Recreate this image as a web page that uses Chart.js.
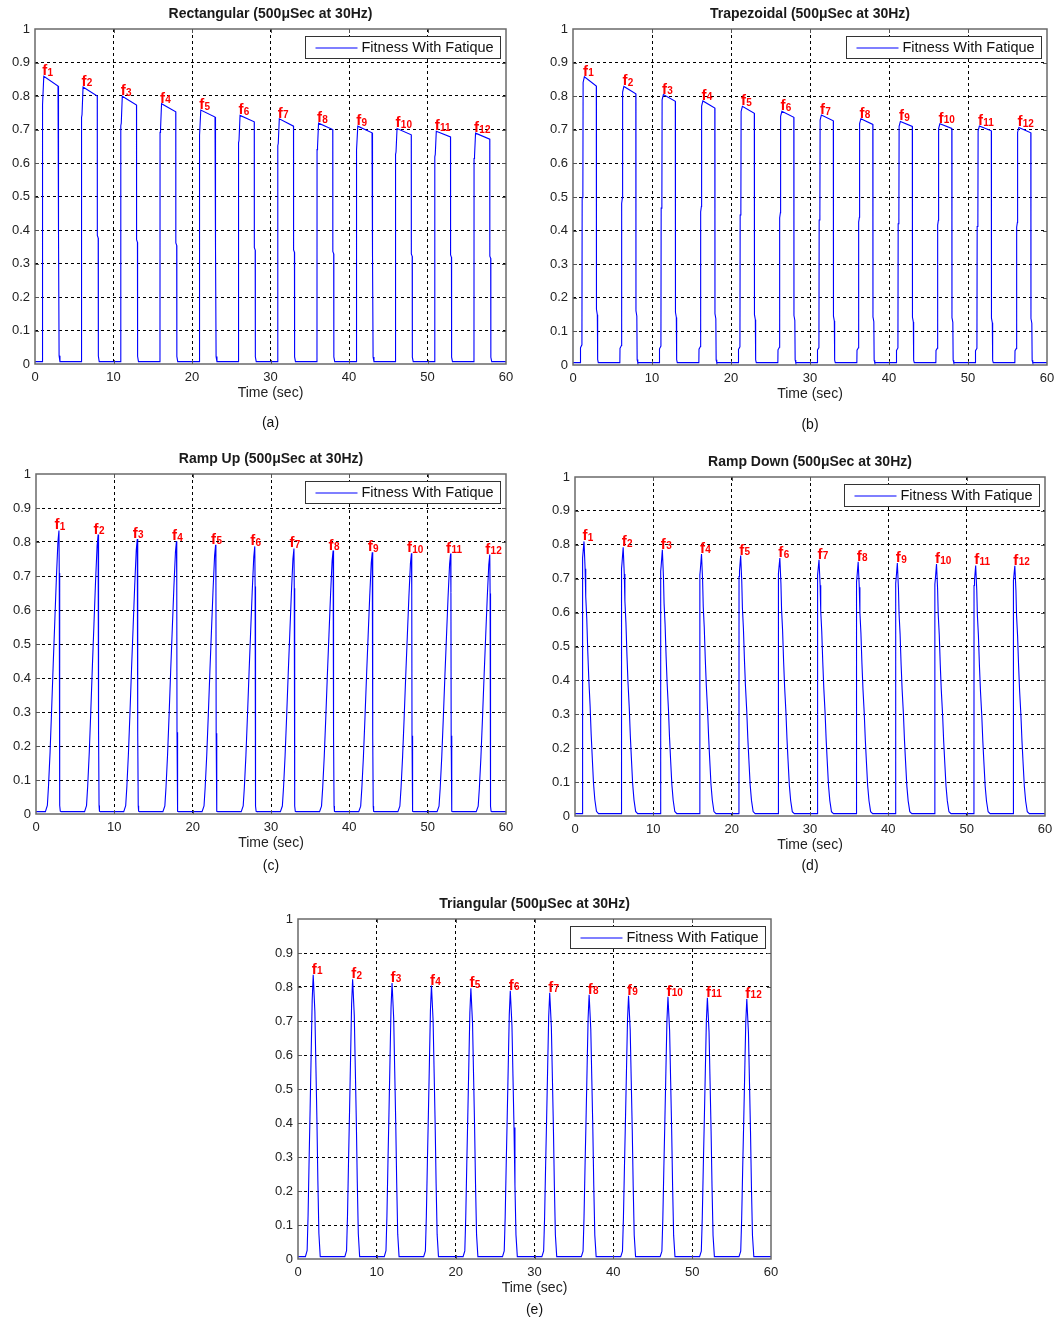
<!DOCTYPE html>
<html>
<head>
<meta charset="utf-8">
<script src="https://cdn.jsdelivr.net/npm/chart.js@4/dist/chart.umd.min.js"></script>
<style>
  html, body { margin: 0; padding: 0; background: #fff; }
  body { width: 1057px; height: 1318px; position: relative; overflow: hidden; }
  canvas.panel { position: absolute; }
</style>
</head>
<body>
<script>
// ---- shared axis values ----
const xTicks = [0, 10, 20, 30, 40, 50, 60];
const yTicks = [0, 0.1, 0.2, 0.3, 0.4, 0.5, 0.6, 0.7, 0.8, 0.9, 1];
const onsets = [0, 5, 10, 15, 20, 25, 30, 35, 40, 45, 50, 55];   // start of each 5 s stimulation cycle
const pulseNames = ['1', '2', '3', '4', '5', '6', '7', '8', '9', '10', '11', '12'];
const seriesLabel = 'Fitness With Fatique';
const restLevel = 0.007;

// ---- (a) Rectangular ----
const rectPeaks = [0.859, 0.827, 0.799, 0.777, 0.758, 0.742, 0.732, 0.719, 0.710, 0.703, 0.695, 0.689];
const rectEnds  = [0.830, 0.800, 0.773, 0.753, 0.737, 0.723, 0.710, 0.700, 0.690, 0.684, 0.678, 0.671];
const rectRiseT = [0.92, 0.93, 0.99, 1.12];
const rectRiseF = [0, 0.89, 0.90, 1];
const rectFallT = [2.93, 2.94, 3.05, 3.07, 3.18];
const rectFallF = [1, 0.48, 0.47, 0.03, 0];

// ---- (b) Trapezoidal ----
const trapPeaks = [0.858, 0.829, 0.805, 0.786, 0.770, 0.755, 0.744, 0.733, 0.725, 0.718, 0.711, 0.707];
const trapEnds  = [0.830, 0.807, 0.785, 0.765, 0.749, 0.737, 0.727, 0.716, 0.710, 0.704, 0.697, 0.691];
const trapRiseT = [0.93, 0.95, 1.13, 1.16, 1.25, 1.28, 1.44];
const trapRiseF = [0, 0.06, 0.07, 0.58, 0.60, 0.98, 1];
const trapFallT = [2.95, 2.97, 3.08, 3.12, 3.20];
const trapFallF = [1, 0.20, 0.18, 0.02, 0];

// ---- (c) Ramp Up ----
const upPeaks = [0.834, 0.822, 0.809, 0.802, 0.792, 0.787, 0.781, 0.775, 0.770, 0.767, 0.766, 0.763];
const upRiseT = [1.20, 1.45, 1.60, 1.80, 2.00, 2.20, 2.40, 2.60, 2.80, 2.93];
const upRiseF = [0, 0.03, 0.10, 0.22, 0.37, 0.53, 0.68, 0.83, 0.96, 1];
const upFallT = [2.97, 3.00, 3.05, 3.10, 3.20];
const upFallF = [0.85, 0.30, 0.03, 0.01, 0];

// ---- (d) Ramp Down ----
const downPeaks = [0.810, 0.793, 0.785, 0.773, 0.768, 0.761, 0.756, 0.750, 0.746, 0.743, 0.739, 0.738];
const downRiseT = [0.93, 0.94, 1.00, 1.15];
const downRiseF = [0, 0.92, 0.94, 1];
const downFallT = [1.29, 1.37, 1.50, 1.63, 1.76, 1.93, 2.06, 2.19, 2.36, 2.53, 2.74, 3.00];
const downFallF = [0.90, 0.80, 0.72, 0.60, 0.50, 0.40, 0.30, 0.22, 0.12, 0.06, 0.017, 0];

// ---- (e) Triangular ----
const triPeaks = [0.836, 0.823, 0.812, 0.804, 0.796, 0.789, 0.783, 0.777, 0.774, 0.771, 0.768, 0.765];
const triRiseT = [0.94, 1.16, 1.28, 1.41, 1.54, 1.67, 1.80, 1.93];
const triRiseF = [0, 0.03, 0.155, 0.35, 0.53, 0.72, 0.91, 1];
const triFallT = [2.14, 2.27, 2.40, 2.52, 2.65, 2.82];
const triFallF = [0.87, 0.68, 0.49, 0.275, 0.09, 0];

// Assemble a force trace: each cycle follows its rise profile (scaled by the
// cycle's peak) and its fall profile (scaled by the cycle's end level).
function forceTrace(peaks, ends, riseT, riseF, fallT, fallF) {
  const pts = [{ x: 0, y: restLevel }];
  onsets.forEach((t0, i) => {
    const top = peaks[i];
    const last = ends ? ends[i] : peaks[i];
    riseT.forEach((dt, j) => pts.push({ x: t0 + dt, y: Math.max(restLevel, riseF[j] * top) }));
    fallT.forEach((dt, j) => pts.push({ x: t0 + dt, y: Math.max(restLevel, fallF[j] * last) }));
  });
  pts.push({ x: 60, y: restLevel });
  return pts;
}

const panels = [
  { title: 'Rectangular (500\u03bcSec at 30Hz)', caption: '(a)',
    box: { left: 35, top: 29, right: 506, bottom: 364 }, capDy: 59,
    data: forceTrace(rectPeaks, rectEnds, rectRiseT, rectRiseF, rectFallT, rectFallF),
    peaks: rectPeaks, peakAt: rectRiseT[rectRiseT.length - 1], labelDx: -1.5 },
  { title: 'Trapezoidal (500\u03bcSec at 30Hz)', caption: '(b)',
    box: { left: 573, top: 29, right: 1047, bottom: 365 }, capDy: 60,
    data: forceTrace(trapPeaks, trapEnds, trapRiseT, trapRiseF, trapFallT, trapFallF),
    peaks: trapPeaks, peakAt: trapRiseT[trapRiseT.length - 1], labelDx: -1.5 },
  { title: 'Ramp Up (500\u03bcSec at 30Hz)', caption: '(c)',
    box: { left: 36, top: 474, right: 506, bottom: 814 }, capDy: 52,
    data: forceTrace(upPeaks, null, upRiseT, upRiseF, upFallT, upFallF),
    peaks: upPeaks, peakAt: upRiseT[upRiseT.length - 1], labelDx: -4.5 },
  { title: 'Ramp Down (500\u03bcSec at 30Hz)', caption: '(d)',
    box: { left: 575, top: 477, right: 1045, bottom: 816 }, capDy: 50,
    data: forceTrace(downPeaks, null, downRiseT, downRiseF, downFallT, downFallF),
    peaks: downPeaks, peakAt: downRiseT[downRiseT.length - 1], labelDx: -1.5 },
  { title: 'Triangular (500\u03bcSec at 30Hz)', caption: '(e)',
    box: { left: 298, top: 919, right: 771, bottom: 1259 }, capDy: 51,
    data: forceTrace(triPeaks, null, triRiseT, triRiseF, triFallT, triFallF),
    peaks: triPeaks, peakAt: triRiseT[triRiseT.length - 1], labelDx: -1.5 }
];

const FONT = 'Arial, "Liberation Sans", sans-serif';
const TRACE_COLOR = '#0000ff';
const PAD_L = 40, PAD_T = 32, PAD_R = 20, PAD_B = 70, X_AXIS_H = 37.4;

// Frame, inner tick marks, legend, titles and peak labels
const decorPlugin = {
  id: 'decor',
  afterDatasetsDraw(chart) {
    const cfg = chart.options.plugins.decor;
    const { ctx, chartArea: a, scales: { x, y } } = chart;
    ctx.save();
    ctx.setLineDash([]);

    // peak labels f1..f12
    ctx.fillStyle = '#ff0000';
    ctx.textAlign = 'left';
    ctx.textBaseline = 'alphabetic';
    cfg.peaks.forEach((p, i) => {
      const px = x.getPixelForValue(onsets[i] + cfg.peakAt) + cfg.labelDx;
      const py = y.getPixelForValue(p) - 1;
      ctx.font = 'bold 15px ' + FONT;
      ctx.fillText('f', px, py);
      const w = ctx.measureText('f').width;
      ctx.font = 'bold 10px ' + FONT;
      ctx.fillText(pulseNames[i], px + w + 0.3, py + 0.5);
    });

    // axes frame
    ctx.strokeStyle = '#6a6a6a';
    ctx.lineWidth = 1.5;
    ctx.strokeRect(a.left, a.top, a.right - a.left, a.bottom - a.top);

    // inner tick marks
    ctx.lineWidth = 1;
    ctx.strokeStyle = '#555';
    ctx.beginPath();
    xTicks.slice(1, -1).forEach(v => {
      const px = Math.round(x.getPixelForValue(v)) + 0.5;
      ctx.moveTo(px, a.bottom); ctx.lineTo(px, a.bottom - 4);
      ctx.moveTo(px, a.top); ctx.lineTo(px, a.top + 4);
    });
    yTicks.slice(1, -1).forEach(v => {
      const py = Math.round(y.getPixelForValue(v)) + 0.5;
      ctx.moveTo(a.left, py); ctx.lineTo(a.left + 4, py);
      ctx.moveTo(a.right, py); ctx.lineTo(a.right - 4, py);
    });
    ctx.stroke();

    // legend
    const lw = 195, lh = 22;
    const lx = Math.round(a.right - 6.5 - lw) + 0.5, ly = Math.round(a.top + 7) + 0.5;
    ctx.fillStyle = '#fff';
    ctx.fillRect(lx, ly, lw, lh);
    ctx.strokeStyle = '#333';
    ctx.lineWidth = 1;
    ctx.strokeRect(lx, ly, lw, lh);
    ctx.strokeStyle = TRACE_COLOR;
    ctx.lineWidth = 1.2;
    ctx.beginPath();
    ctx.moveTo(lx + 10, ly + lh / 2 + 0.5); ctx.lineTo(lx + 52, ly + lh / 2 + 0.5);
    ctx.stroke();
    ctx.fillStyle = '#111';
    ctx.font = '14.5px ' + FONT;
    ctx.textBaseline = 'middle';
    ctx.fillText(chart.data.datasets[0].label, lx + 56, ly + lh / 2 + 0.5);

    // title and caption
    ctx.textAlign = 'center';
    ctx.font = 'bold 14px ' + FONT;
    ctx.fillStyle = '#1a1a1a';
    ctx.fillText(cfg.title, (a.left + a.right) / 2, a.top - 15);
    ctx.font = '14px ' + FONT;
    ctx.fillStyle = '#111';
    ctx.fillText(cfg.caption, (a.left + a.right) / 2, a.bottom + cfg.capDy);
    ctx.restore();
  }
};

const edgeClear = (lo, hi) => c => (c.tick && (Math.abs(c.tick.value - lo) < 1e-9 || Math.abs(c.tick.value - hi) < 1e-9)) ? 'rgba(0,0,0,0)' : '#000';
const fmtY = v => (v === 0 ? '0' : Math.abs(v - 1) < 1e-9 ? '1' : v.toFixed(1));

panels.forEach(p => {
  const b = p.box;
  const cv = document.createElement('canvas');
  cv.className = 'panel';
  const w = (b.right - b.left) + PAD_L + PAD_R;
  const h = (b.bottom - b.top) + PAD_T + PAD_B;
  cv.width = w; cv.height = h;
  cv.style.left = (b.left - PAD_L) + 'px';
  cv.style.top = (b.top - PAD_T) + 'px';
  cv.style.width = w + 'px'; cv.style.height = h + 'px';
  document.body.appendChild(cv);

  new Chart(cv, {
    type: 'line',
    data: {
      datasets: [{
        label: seriesLabel,
        data: p.data,
        borderColor: TRACE_COLOR,
        borderWidth: 1.1,
        pointRadius: 0,
        tension: 0,
        fill: false
      }]
    },
    options: {
      responsive: false,
      animation: false,
      devicePixelRatio: 1,
      layout: { padding: { left: 0, top: PAD_T, right: PAD_R, bottom: PAD_B - X_AXIS_H } },
      plugins: {
        legend: { display: false },
        tooltip: { enabled: false },
        title: { display: false },
        decor: { title: p.title, caption: p.caption, capDy: p.capDy, peaks: p.peaks, peakAt: p.peakAt, labelDx: p.labelDx }
      },
      scales: {
        x: {
          type: 'linear', min: 0, max: 60,
          afterBuildTicks: s => { s.ticks = xTicks.map(v => ({ value: v })); },
          afterFit: s => { s.height = X_AXIS_H; },
          ticks: { font: { family: FONT, size: 13 }, color: '#222', padding: 6, maxRotation: 0, autoSkip: false },
          grid: { color: edgeClear(0, 60), lineWidth: 1, drawTicks: false },
          border: { display: false, dash: [3, 3] },
          title: { display: true, text: 'Time (sec)', font: { family: FONT, size: 14 }, color: '#222', padding: 0 }
        },
        y: {
          type: 'linear', min: 0, max: 1,
          afterBuildTicks: s => { s.ticks = yTicks.map(v => ({ value: v })); },
          afterFit: s => { s.width = PAD_L; },
          ticks: { font: { family: FONT, size: 13 }, color: '#222', padding: 5, callback: fmtY, autoSkip: false },
          grid: { color: edgeClear(0, 1), lineWidth: 1, drawTicks: false },
          border: { display: false, dash: [3, 3] }
        }
      }
    },
    plugins: [decorPlugin]
  });
});
</script>
</body>
</html>
